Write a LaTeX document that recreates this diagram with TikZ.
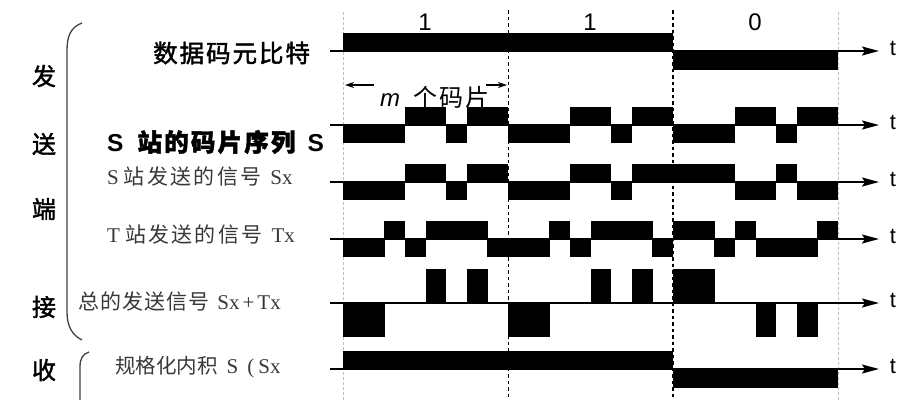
\documentclass[tikz,border=0pt]{standalone}
\usepackage{fontspec}
\setmainfont{Liberation Serif}
\setsansfont{Liberation Sans}
\newfontfamily\cjk{Noto Sans CJK SC}
\newfontfamily\cjkb{Noto Sans CJK SC}[FakeBold=1.8]
\usetikzlibrary{arrows.meta}
\definecolor{txtgray}{HTML}{383838}
\newcommand\chipwave[3]{%
  \foreach \v [count=\i from 0] in {#3} {%
    \pgfmathsetmacro\xa{343+\i*20.625}%
    \pgfmathsetmacro\xb{343+\i*20.625+20.95}%
    \pgfmathsetmacro\yb{#1-(\v)*#2}%
    \fill (\xa,#1) rectangle (\xb,\yb);
  }%
}
\begin{document}
\begin{tikzpicture}[x=1pt,y=-1pt,
  axisline/.style={line width=1.8pt, -{Stealth[length=17pt,width=9pt,inset=3pt]}},
  bitsep/.style={line width=1.7pt, dash pattern=on 3.5pt off 3pt},
  edgesep/.style={line width=0.8pt, black!25, dash pattern=on 3pt off 2pt},
  marrow/.style={line width=1.3pt, -{Stealth[length=9pt,width=6pt]}},
  tlbl/.style={font=\sffamily\fontsize{22}{24}\selectfont, inner sep=0pt},
  bitlbl/.style={font=\sffamily\fontsize{24}{26}\selectfont, inner sep=0pt},
  sidelbl/.style={font=\cjkb\fontsize{24}{26}\selectfont, inner sep=0pt},
  boldlbl/.style={font=\fontsize{24.5}{26}\selectfont, inner sep=0pt, anchor=west},
  thinlbl/.style={font=\rmfamily\fontsize{21}{23}\selectfont, text=txtgray, inner sep=0pt, anchor=west},
  bracel/.style={line width=1.3pt, black!75}
]
\useasboundingbox (0,0) rectangle (918,400);

% bit separators
\coordinate (v0t) at (343,12); \coordinate (v0b) at (343,400);
\coordinate (v1t) at (508.5,10); \coordinate (v1b) at (508.5,400);
\coordinate (v2t) at (673,10); \coordinate (v2b) at (673,400);
\coordinate (v3t) at (838,12); \coordinate (v3b) at (838,400);
\draw[edgesep] (v0t) -- (v0b);
\draw[edgesep] (v3t) -- (v3b);
\draw[bitsep] (v1t) -- (v1b);
\draw[bitsep] (v2t) -- (v2b);

% bit labels
\node[bitlbl] (bit1) at (425,22) {1};
\node[bitlbl] (bit2) at (590,22) {1};
\node[bitlbl] (bit3) at (755,22) {0};

% waveforms
\chipwave{51}{18.5}{1,1,1,1,1,1,1,1, 1,1,1,1,1,1,1,1, -1,-1,-1,-1,-1,-1,-1,-1}
\chipwave{125}{18}{-1,-1,-1,1,1,-1,1,1, -1,-1,-1,1,1,-1,1,1, -1,-1,-1,1,1,-1,1,1}
\chipwave{182}{18}{-1,-1,-1,1,1,-1,1,1, -1,-1,-1,1,1,-1,1,1, 1,1,1,-1,-1,1,-1,-1}
\chipwave{239}{18}{-1,-1,1,-1,1,1,1,-1, -1,-1,1,-1,1,1,1,-1, 1,1,-1,1,-1,-1,-1,1}
\chipwave{303}{17}{-2,-2,0,0,2,0,2,0, -2,-2,0,0,2,0,2,0, 2,2,0,0,-2,0,-2,0}
\chipwave{369}{18.5}{1,1,1,1,1,1,1,1, 1,1,1,1,1,1,1,1, -1,-1,-1,-1,-1,-1,-1,-1}

% time axes
\foreach \r/\yy in {1/51, 2/125, 3/182, 4/239, 5/303, 6/369} {
  \coordinate (as\r) at (330,\yy);
  \coordinate (ae\r) at (879,\yy);
  \draw[axisline] (as\r) -- (ae\r);
  \node[tlbl] (t\r) at (893,{\yy-3}) {t};
}

% m chips annotation
\coordinate (mLs) at (374,85); \coordinate (mLe) at (345,85);
\coordinate (mRs) at (486,85); \coordinate (mRe) at (507,85);
\draw[marrow] (mLs) -- (mLe);
\draw[marrow] (mRs) -- (mRe);
\node[inner sep=0pt, anchor=west, font=\fontsize{24}{26}\selectfont] (mtxt) at (380,97)
  {\sffamily\itshape m\hspace{13pt}{\cjk\addfontfeature{LetterSpace=10}个码片}};

% row labels
\node[boldlbl] (lbl1) at (153,53) {\cjkb\addfontfeature{LetterSpace=8}数据码元比特};
\node[boldlbl] (lbl2) at (107,142)
  {\sffamily\bfseries S\hspace{14pt}{\cjkb\addfontfeature{LetterSpace=9}站的码片序列}\hspace{12pt}S};
\node[thinlbl] (lbl3) at (107,177)
  {S\hspace{5pt}{\cjk\addfontfeature{LetterSpace=11}站发送的信号}\hspace{9pt}Sx};
\node[thinlbl] (lbl4) at (107,235)
  {T\hspace{5pt}{\cjk\addfontfeature{LetterSpace=11}站发送的信号}\hspace{9pt}Tx};
\node[thinlbl] (lbl5) at (78,302)
  {{\cjk\addfontfeature{LetterSpace=5}总的发送信号}\hspace{8pt}Sx\hspace{3pt}+\hspace{3pt}Tx};
\node[thinlbl] (lbl6) at (115,367)
  {{\cjk\fontsize{20.5}{23}\selectfont 规格化内积}\hspace{9pt}S\hspace{9pt}(\hspace{4pt}Sx};

% side labels
\node[sidelbl] (sfa) at (44,76) {发};
\node[sidelbl] (ssong) at (44,144) {送};
\node[sidelbl] (sduan) at (44,209) {端};
\node[sidelbl] (sjie) at (44,307) {接};
\node[sidelbl] (sshou) at (44,370) {收};

% braces
\draw[bracel] (82,23) .. controls (71,27) and (67,36) .. (67,50) -- (67,312) .. controls (67,326) and (72,335) .. (82,340);
\draw[bracel] (89,352) .. controls (83,354) and (80,358) .. (80,367) -- (80,400);
\end{tikzpicture}
\end{document}
